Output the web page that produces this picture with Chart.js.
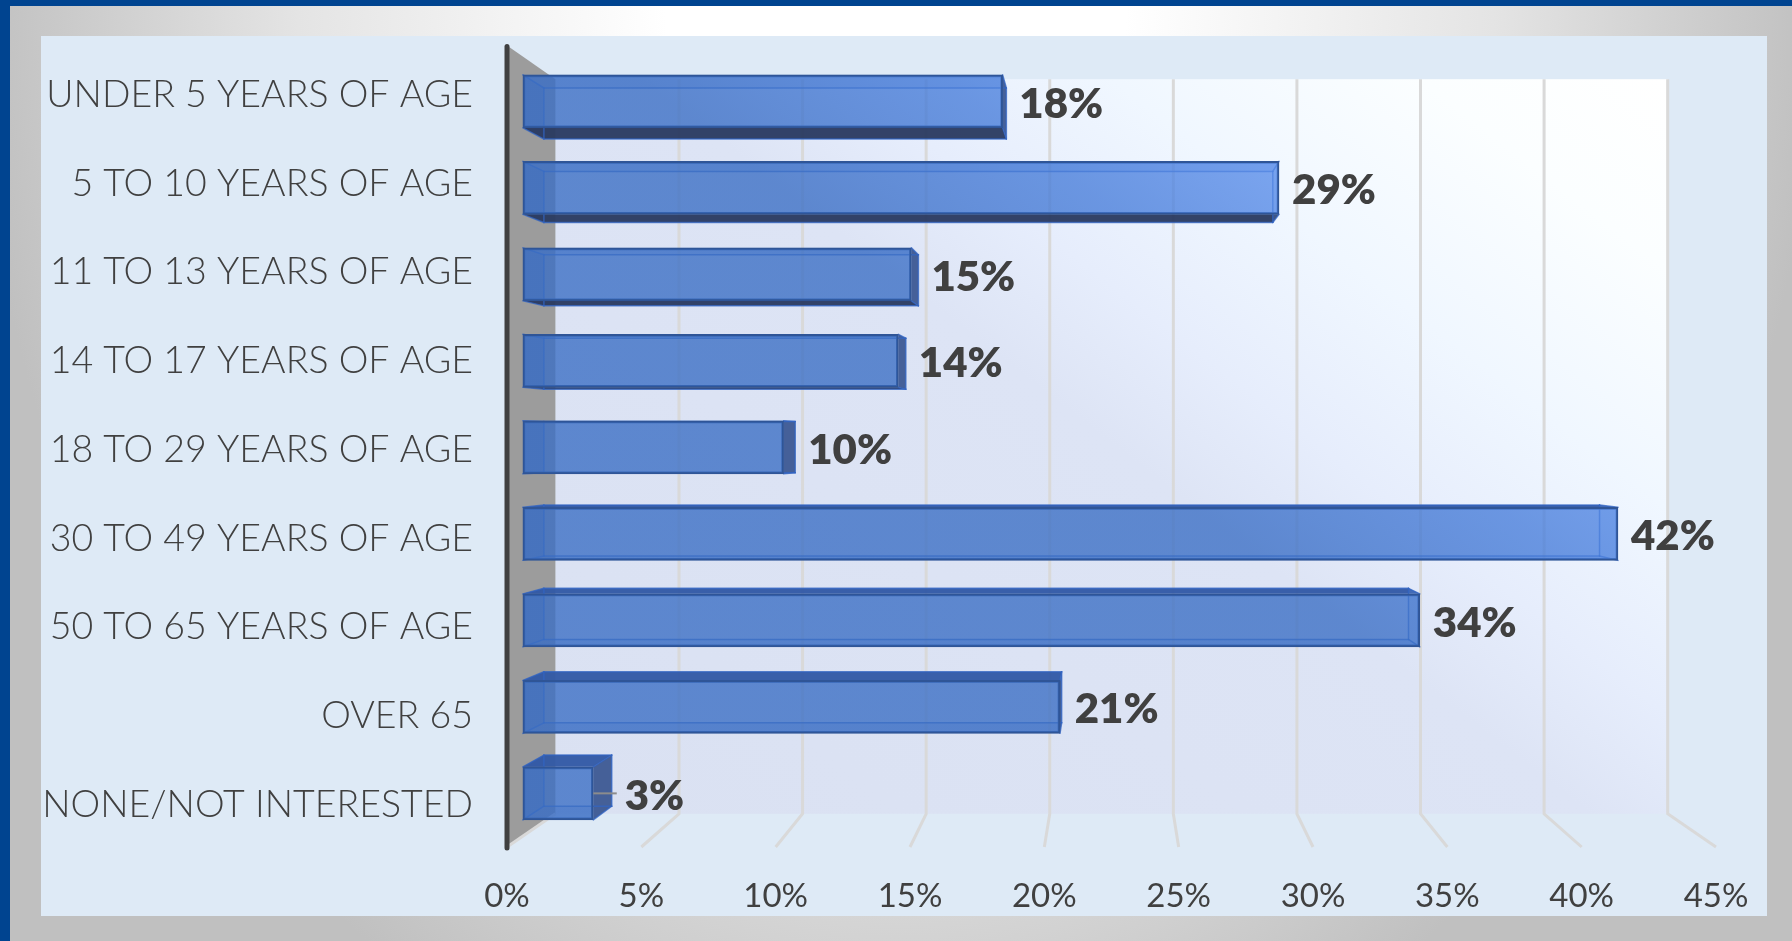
<!DOCTYPE html>
<html>
<head>
<meta charset="utf-8">
<script src="https://cdn.jsdelivr.net/npm/chart.js@4"></script>
<style>
  html, body { margin: 0; padding: 0; overflow: hidden; }
  body {
    width: 1792px; height: 941px; position: relative;
    background: radial-gradient(ellipse 920px 1150px at 896px 0, #ffffff 25%, #e4e4e4 65%, #c0c0c0 100%);
  }
  #franjaTop { position: absolute; left: 0; top: 0; width: 1792px; height: 6px; background: #004490; }
  #franjaIzq { position: absolute; left: 0; top: 0; width: 10px; height: 941px; background: #004490; }
  canvas { position: absolute; left: 0; top: 0; }
</style>
</head>
<body>
<div id="franjaTop"></div>
<div id="franjaIzq"></div>
<canvas id="grafico" width="1792" height="941"></canvas>
<script>
const categorias = [
  "UNDER 5 YEARS OF AGE", "5 TO 10 YEARS OF AGE", "11 TO 13 YEARS OF AGE",
  "14 TO 17 YEARS OF AGE", "18 TO 29 YEARS OF AGE", "30 TO 49 YEARS OF AGE",
  "50 TO 65 YEARS OF AGE", "OVER 65", "NONE/NOT INTERESTED"
];
const valores = [18.4, 29, 14.9, 14.4, 10, 42, 34.4, 20.6, 2.7];
const ticksX = [0, 5, 10, 15, 20, 25, 30, 35, 40, 45];

// Perspectiva de la caja 3D (fondo y profundidad de las barras)
const FUGA_PARED = { x: 1112, y: 432, s: 0.92 };
const FUGA_BARRA = { x: 1106, y: 440, s: 0.964 };
const proyectar = (x, y, f) => [f.x + (x - f.x) * f.s, f.y + (y - f.y) * f.s];

function poligono(ctx, puntos, color) {
  ctx.beginPath();
  puntos.forEach((p, i) => (i ? ctx.lineTo(p[0], p[1]) : ctx.moveTo(p[0], p[1])));
  ctx.closePath();
  ctx.fillStyle = color;
  ctx.fill();
}

// Panel, pared del fondo, pared lateral y rejilla
const cajaPlugin = {
  id: "caja",
  beforeDatasetsDraw(chart) {
    const { ctx, chartArea: a, scales } = chart;
    ctx.save();
    const sup = proyectar(a.left, a.top, FUGA_PARED);
    const inf = proyectar(a.right, a.bottom, FUGA_PARED);

    const grad = ctx.createLinearGradient(1667, 80, 900, 1073);
    grad.addColorStop(0, "#ffffff");
    grad.addColorStop(0.12, "#fbfeff");
    grad.addColorStop(0.27, "#f0f7ff");
    grad.addColorStop(0.4, "#e6edfc");
    grad.addColorStop(0.5, "#dde4f5");
    grad.addColorStop(1, "#dae1f2");
    ctx.fillStyle = grad;
    ctx.fillRect(sup[0], sup[1], inf[0] - sup[0], inf[1] - sup[1]);

    poligono(ctx, [[a.left, a.top - 3], [sup[0], sup[1]], [sup[0], inf[1]], [a.left, a.bottom]], "#9c9c9c");

    ctx.strokeStyle = "#d9d9d9";
    ctx.lineWidth = 3;
    ticksX.forEach(v => {
      const x = scales.x.getPixelForValue(v);
      const atras = proyectar(x, a.bottom, FUGA_PARED);
      ctx.beginPath();
      ctx.moveTo(x, a.bottom);
      ctx.lineTo(atras[0], atras[1]);
      if (v > 0) ctx.lineTo(atras[0], sup[1]);
      ctx.stroke();
    });

    ctx.strokeStyle = "#404040";
    ctx.lineWidth = 5;
    ctx.lineCap = "round";
    ctx.beginPath();
    ctx.moveTo(a.left, a.top - 2);
    ctx.lineTo(a.left, a.bottom + 1);
    ctx.stroke();

    // Caras traseras de cada barra, se ven a traves del frente
    chart.getDatasetMeta(0).data.forEach(el => {
      const top = el.y - el.height / 2, bot = el.y + el.height / 2;
      const a1 = [el.base, top], a2 = [el.x, top], a3 = [el.x, bot], a4 = [el.base, bot];
      const b1 = proyectar(el.base, top, FUGA_BARRA), b2 = proyectar(el.x, top, FUGA_BARRA);
      const b3 = proyectar(el.x, bot, FUGA_BARRA), b4 = proyectar(el.base, bot, FUGA_BARRA);
      poligono(ctx, [b1, b2, b3, b4], "rgba(70,115,205,0.15)");
      poligono(ctx, [a1, b1, b4, a4], "rgba(45,95,190,0.4)");
      poligono(ctx, [a4, a3, b3, b4], b4[1] > a4[1] ? "rgba(42,58,96,0.95)" : "rgba(50,100,200,0.3)");
      poligono(ctx, [a1, a2, b2, b1], b1[1] < a1[1] ? "rgba(50,88,165,0.95)" : "rgba(60,110,205,0.3)");
      poligono(ctx, [a2, a3, b3, b2], b2[0] > a2[0] ? "rgba(62,90,148,0.95)" : "rgba(90,140,225,0.25)");
      ctx.strokeStyle = "rgba(50,100,195,0.75)";
      ctx.lineWidth = 1.5;
      [[b1, b2], [b2, b3], [b3, b4], [b4, b1], [a1, b1], [a2, b2], [a3, b3], [a4, b4]].forEach(([p, q]) => {
        ctx.beginPath();
        ctx.moveTo(p[0], p[1]);
        ctx.lineTo(q[0], q[1]);
        ctx.stroke();
      });
    });
    ctx.restore();
  }
};

// Etiquetas de valor al final de cada barra
const etiquetasPlugin = {
  id: "etiquetas",
  afterDatasetsDraw(chart) {
    const { ctx } = chart;
    ctx.save();
    ctx.font = "800 42px Lato";
    ctx.textAlign = "left";
    ctx.textBaseline = "middle";
    chart.getDatasetMeta(0).data.forEach((el, i) => {
      const atras = proyectar(el.x, el.y, FUGA_BARRA);
      const x = Math.max(el.x, atras[0]) + 13;
      if (valores[i] < 5) {
        ctx.strokeStyle = "#8c8c8c";
        ctx.lineWidth = 2;
        ctx.beginPath();
        ctx.moveTo(el.x, el.y);
        ctx.lineTo(x - 8, el.y);
        ctx.stroke();
      }
      ctx.fillStyle = "#404040";
      ctx.fillText(Math.round(valores[i]) + "%", x, el.y + 3);
    });
    ctx.restore();
  }
};

// Fondo azul claro detras de todo el grafico
const panelPlugin = {
  id: "panel",
  beforeDraw(chart) {
    const { ctx } = chart;
    ctx.save();
    ctx.fillStyle = "#deeaf6";
    ctx.fillRect(41, 36, 1726, 880);
    ctx.restore();
  }
};

// Relleno del frente: se aclara hacia la esquina clara del fondo
function rellenoBarra(contexto) {
  const grad = contexto.chart.ctx.createLinearGradient(1667, 80, 900, 1073);
  grad.addColorStop(0.25, "rgba(90,142,235,0.75)");
  grad.addColorStop(0.35, "rgba(72,126,219,0.75)");
  grad.addColorStop(0.5, "rgba(58,110,196,0.75)");
  grad.addColorStop(1, "rgba(58,110,196,0.75)");
  return grad;
}

new Chart(document.getElementById("grafico").getContext("2d"), {
  type: "bar",
  data: {
    labels: categorias,
    datasets: [{
      data: valores.map((v, i) => ({ x: v, y: i })),
      xAxisID: "xBarra",
      yAxisID: "yBarra",
      base: 0,
      barThickness: 53,
      backgroundColor: rellenoBarra,
      borderColor: "#2f5597",
      borderWidth: 2,
      borderSkipped: false
    }]
  },
  options: {
    indexAxis: "y",
    responsive: false,
    animation: false,
    layout: { padding: { left: 0, top: 42.4, right: 76, bottom: 0 } },
    plugins: { legend: { display: false }, tooltip: { enabled: false } },
    scales: {
      x: {
        type: "linear",
        position: "bottom",
        min: 0,
        max: 45,
        afterBuildTicks: (eje) => { eje.ticks = ticksX.map(v => ({ value: v })); },
        afterFit: (eje) => { eje.height = 94; },
        grid: { display: false },
        border: { display: false },
        ticks: {
          callback: v => v + "%",
          color: "#404040",
          font: { family: "Lato", size: 33 },
          padding: 22,
          maxRotation: 0
        }
      },
      y: {
        type: "category",
        position: "left",
        offset: true,
        afterFit: (eje) => { eje.width = 507; },
        grid: { display: false },
        border: { display: false },
        ticks: {
          color: "#404040",
          font: { family: "Lato", size: 37.5, weight: 300 },
          padding: 26,
          labelOffset: 2,
          autoSkip: false
        }
      },
      // Ejes ocultos: las barras estan en un plano algo mas profundo que el de las etiquetas
      xBarra: { type: "linear", axis: "x", display: false, offset: false, bounds: "data", min: -0.61, max: 45.76 },
      yBarra: { type: "linear", axis: "y", display: false, offset: false, bounds: "data", reverse: true, min: -0.611, max: 8.62 }
    }
  },
  plugins: [panelPlugin, cajaPlugin, etiquetasPlugin]
});
</script>
</body>
</html>
